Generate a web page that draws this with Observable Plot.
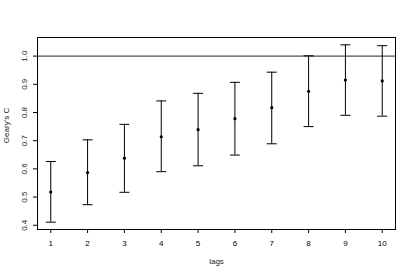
<!DOCTYPE html>
<html>
<head>
<meta charset="utf-8">
<script src="https://cdn.jsdelivr.net/npm/d3@7"></script>
<script src="https://cdn.jsdelivr.net/npm/@observablehq/plot@0.6"></script>
<style>
  html, body { margin: 0; padding: 0; background: #fff; }
  svg { display: block; }
</style>
</head>
<body>
<div id="chart"></div>
<script>
const lags = [1, 2, 3, 4, 5, 6, 7, 8, 9, 10];
const estimate = [0.518, 0.587, 0.638, 0.714, 0.739, 0.778, 0.817, 0.875, 0.915, 0.912];
const lower = [0.411, 0.473, 0.517, 0.590, 0.611, 0.649, 0.689, 0.750, 0.790, 0.787];
const upper = [0.626, 0.703, 0.758, 0.841, 0.868, 0.907, 0.943, 1.001, 1.040, 1.037];
const yTicks = [0.4, 0.5, 0.6, 0.7, 0.8, 0.9, 1.0];
const xTicks = lags;

const data = lags.map((l, i) => ({lag: l, est: estimate[i], lo: lower[i], hi: upper[i]}));
const caps = data.flatMap(d => [{lag: d.lag, v: d.lo}, {lag: d.lag, v: d.hi}]);

const capSymbol = { draw(ctx) { ctx.moveTo(-5, 0); ctx.lineTo(5, 0); } };

const font = "Liberation Sans, Arial, Helvetica, sans-serif";

const chart = Plot.plot({
  width: 415,
  height: 277,
  marginLeft: 37,
  marginRight: 20,
  marginTop: 37,
  marginBottom: 48,
  style: { fontFamily: font, fontSize: "8px", color: "#000", background: "#fff" },
  x: { domain: [0.64, 10.36] },
  y: { domain: [0.385, 1.066] },
  marks: [
    Plot.frame({ stroke: "#000" }),
    Plot.ruleY([1], { stroke: "#222" }),
    Plot.ruleX(data, { x: "lag", y1: "lo", y2: "hi", stroke: "#000" }),
    Plot.dot(caps, { x: "lag", y: "v", symbol: capSymbol, r: 5, stroke: "#000", strokeWidth: 1 }),
    Plot.dot(data, { x: "lag", y: "est", r: 1.6, fill: "#000", stroke: "none" }),
    Plot.axisX({ ticks: xTicks, tickSize: 4, tickPadding: 7, tickFormat: d => String(d), label: null, fontSize: 8 }),
    Plot.axisY({ ticks: yTicks, tickSize: 4, tickFormat: () => "", label: null }),
    Plot.text(yTicks, { y: d => d, text: d => d.toFixed(1), frameAnchor: "left", dx: -13, rotate: -90, textAnchor: "middle", lineAnchor: "middle", fontSize: 8, fill: "#222" }),
    Plot.text(["lags"], { text: d => d, frameAnchor: "bottom", dy: 34, fontSize: 8, fill: "#222" }),
    Plot.text(["Geary's C"], { text: d => d, frameAnchor: "left", dx: -31, dy: -8, rotate: -90, textAnchor: "middle", lineAnchor: "middle", fontSize: 8, fill: "#222" })
  ]
});
document.getElementById("chart").appendChild(chart);
</script>
</body>
</html>
